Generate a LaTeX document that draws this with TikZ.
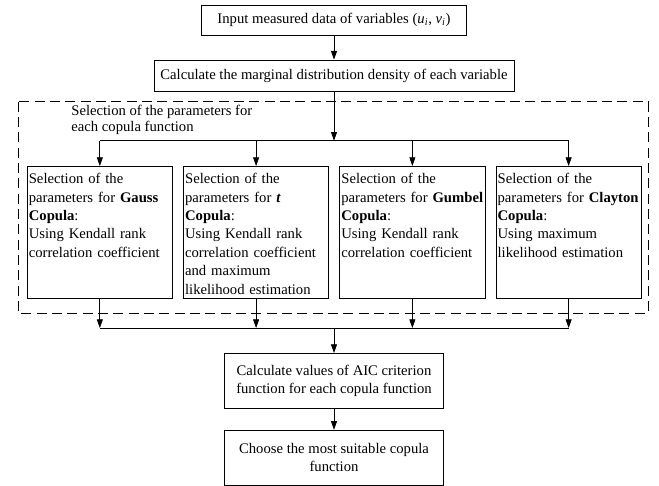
\documentclass[tikz,border=0pt]{standalone}
\usepackage{fontspec}
\setmainfont{Liberation Serif}
\usetikzlibrary{positioning, arrows.meta, calc}

\begin{document}
\begin{tikzpicture}[x=0.75pt, y=-0.75pt, line width=0.6pt,
    >={Triangle[length=6.5pt, width=4.5pt]},
    every node/.style={font=\fontsize{11}{13.8}\selectfont},
    block/.style={draw, align=center, inner sep=2pt},
    selbox/.style={draw, align=left, text width=106.5pt, inner xsep=1.3pt,
        inner ysep=3pt, text height=10pt, text depth=83pt},
    group/.style={dash pattern=on 7.5pt off 4pt}]
    \useasboundingbox (0,0) rectangle (659,485);

    \node[block, minimum width=198.75pt, minimum height=22.5pt] (input) at (334,20)
        {Input measured data of variables (\textit{u}\textsubscript{\textit{i}}, \textit{v}\textsubscript{\textit{i}})};
    \node[block, minimum width=270pt, minimum height=23.5pt] (margin) [below=18.2pt of input]
        {Calculate the marginal distribution density of each variable};

    % group of the four copulas
    \draw[group] (18,101.7) rectangle (648,313);
    \node[anchor=north west, align=left, inner sep=0pt, font=\fontsize{11}{11.5}\selectfont]
        (grouptitle) at (71,105) {Selection of the parameters for\\each copula function};

    \node[selbox, anchor=north west] (gauss) at (26.7,166)
        {Selection of the\\parameters for \textbf{Gauss}\\\textbf{Copula}:\\Using Kendall rank\\correlation coefficient};
    \node[selbox] (tcop) [right=7.5pt of gauss]
        {Selection of the\\parameters for \textbf{\textit{t}}\\\textbf{Copula}:\\Using Kendall rank\\correlation coefficient\\and maximum\\likelihood estimation};
    \node[selbox] (gumbel) [right=7.5pt of tcop]
        {Selection of the\\parameters for \textbf{Gumbel}\\\textbf{Copula}:\\Using Kendall rank\\correlation coefficient};
    \node[selbox] (clayton) [right=7.5pt of gumbel]
        {Selection of the\\parameters for \textbf{Clayton}\\\textbf{Copula}:\\Using maximum\\likelihood estimation};

    \coordinate (split) at (margin.south |- 0,140.7);
    \coordinate (merge) at (margin.south |- 0,328);

    \node[block, minimum width=164.25pt, minimum height=41.25pt] (aic) [below=18.75pt of merge]
        {Calculate values of AIC criterion\\function for each copula function};
    \node[block, minimum width=164.25pt, minimum height=41.25pt] (choice) [below=15.75pt of aic]
        {Choose the most suitable copula\\function};

    \path[->]
    (input) edge (margin)
    (margin) edge (split)
    (merge) edge (aic)
    (aic) edge (choice)
    ;

    \draw (gauss.north |- split) -- (clayton.north |- split);
    \draw (gauss.south |- merge) -- (clayton.south |- merge);
    \foreach \b in {gauss, tcop, gumbel, clayton} {
        \draw[->] (\b.north |- split) -- (\b.north);
        \draw[->] (\b.south) -- (\b.south |- merge);
    }
\end{tikzpicture}
\end{document}
